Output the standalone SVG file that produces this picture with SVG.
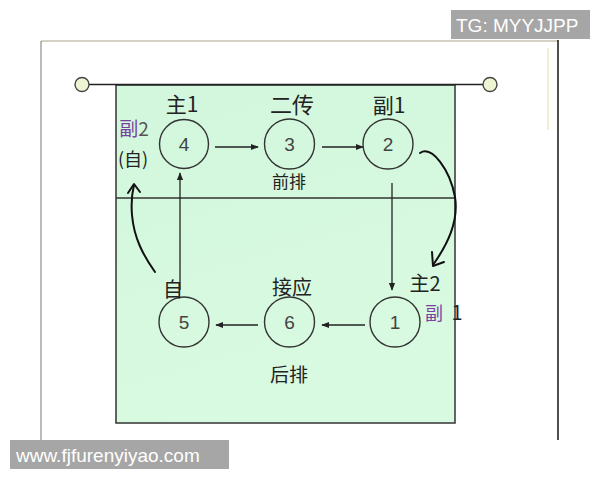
<svg xmlns="http://www.w3.org/2000/svg" width="600" height="480" viewBox="0 0 600 480">
<defs>
<linearGradient id="court" x1="0" y1="0" x2="0.3" y2="1">
<stop offset="0" stop-color="#d2f7dc"/>
<stop offset="1" stop-color="#d8fae1"/>
</linearGradient>
<marker id="ah" viewBox="0 0 10 10" refX="9" refY="5" markerWidth="8" markerHeight="8" markerUnits="userSpaceOnUse" orient="auto">
<path d="M0,1 L10,5 L0,9 Z" fill="#222"/>
</marker>
<style>
.pos{fill:none;stroke:#333;stroke-width:1.4}
.num{font-family:"Liberation Sans",Arial,sans-serif;font-size:19px;fill:#444;text-anchor:middle}
.hw{font-family:"Noto Sans CJK SC","Noto Sans",sans-serif;fill:#222;text-anchor:middle}
.pu{fill:#7a3fa0}
.wm{font-family:"Liberation Sans",Arial,sans-serif;font-size:19px;fill:#fff}
.ln{stroke:#222;stroke-width:1.3;fill:none}
.cv{stroke:#111;stroke-width:2;fill:none;stroke-linecap:round;stroke-linejoin:round}
</style>
</defs>
<rect width="600" height="480" fill="#fff"/>
<!-- frame -->
<line x1="41" y1="41" x2="558" y2="41" stroke="#c9c2b2" stroke-width="1.5"/>
<line x1="41" y1="41" x2="41" y2="442" stroke="#777" stroke-width="1"/>
<line x1="558" y1="40" x2="558" y2="440" stroke="#222" stroke-width="1.6"/>
<line x1="548" y1="48" x2="548" y2="130" stroke="#f1ecd2" stroke-width="2"/>
<!-- court -->
<g id="court-area">
<rect x="116" y="85" width="339" height="338" fill="url(#court)" stroke="#333" stroke-width="1.5"/>
<line x1="116" y1="198" x2="455" y2="198" stroke="#333" stroke-width="1.3"/>
</g>
<!-- net -->
<g id="net">
<line x1="89" y1="84.5" x2="483" y2="84.5" stroke="#222" stroke-width="1.6"/>
<circle cx="82" cy="84.5" r="7" fill="#eef5d2" stroke="#444" stroke-width="1.4"/>
<circle cx="490" cy="84.5" r="7" fill="#eef5d2" stroke="#444" stroke-width="1.4"/>
</g>
<!-- connectors -->
<g id="connectors">
<line class="ln" x1="215" y1="147" x2="258" y2="147" marker-end="url(#ah)"/>
<line class="ln" x1="322" y1="147" x2="363" y2="147" marker-end="url(#ah)"/>
<line class="ln" x1="392" y1="183" x2="392" y2="290" marker-end="url(#ah)"/>
<line class="ln" x1="365" y1="325" x2="322" y2="325" marker-end="url(#ah)"/>
<line class="ln" x1="258" y1="325" x2="216" y2="325" marker-end="url(#ah)"/>
<line class="ln" x1="180" y1="290" x2="180" y2="173" marker-end="url(#ah)"/>
<path class="cv" d="M420,153 C432,145 450,170 455,197 C459,222 447,245 433,265"/>
<path class="cv" d="M432,252 L433,266 L444,262"/>
<path class="cv" d="M155,272 C143,255 134,238 132,215 C131,203 132,193 134,185"/>
<path class="cv" d="M128,193 L134,184 L140,192"/>
</g>
<!-- nodes -->
<g id="p4"><circle class="pos" cx="184" cy="144" r="24.5"/><text class="num" x="184" y="151">4</text></g>
<g id="p3"><circle class="pos" cx="289.5" cy="144" r="25"/><text class="num" x="289.5" y="151">3</text></g>
<g id="p2"><circle class="pos" cx="388" cy="144" r="25"/><text class="num" x="388" y="151">2</text></g>
<g id="p5"><circle class="pos" cx="184" cy="322" r="25"/><text class="num" x="184" y="329">5</text></g>
<g id="p6"><circle class="pos" cx="289.5" cy="322" r="25"/><text class="num" x="289.5" y="329">6</text></g>
<g id="p1"><circle class="pos" cx="395" cy="322" r="25"/><text class="num" x="395" y="329">1</text></g>
<!-- labels -->
<g id="labels">
<text class="hw" x="182" y="112" font-size="21">主1</text>
<text class="hw" x="292" y="113" font-size="22">二传</text>
<text class="hw" x="389" y="113" font-size="21">副1</text>
<text class="hw" x="134" y="136" font-size="19"><tspan class="pu">副</tspan><tspan fill="#555">2</tspan></text>
<text class="hw" x="133" y="166" font-size="18" fill="#554466">(自)</text>
<text class="hw" x="289" y="188" font-size="17" fill="#333">前排</text>
<text class="hw" x="173" y="297" font-size="20">自</text>
<text class="hw" x="292" y="295" font-size="20">接应</text>
<text class="hw" x="425" y="291" font-size="20">主2</text>
<text class="hw pu" x="434" y="320" font-size="18">副</text>
<text class="hw" x="457" y="320" font-size="20" fill="#5a3a80">1</text>
<text class="hw" x="289" y="382" font-size="19" fill="#333">后排</text>
</g>
<!-- watermarks -->
<rect x="451" y="10" width="139" height="29" fill="#a6a6a6"/>
<text class="wm" x="456" y="32">TG: MYYJJPP</text>
<rect x="10" y="440" width="219" height="29" fill="#a6a6a6"/>
<text class="wm" x="16" y="462">www.fjfurenyiyao.com</text>
</svg>
